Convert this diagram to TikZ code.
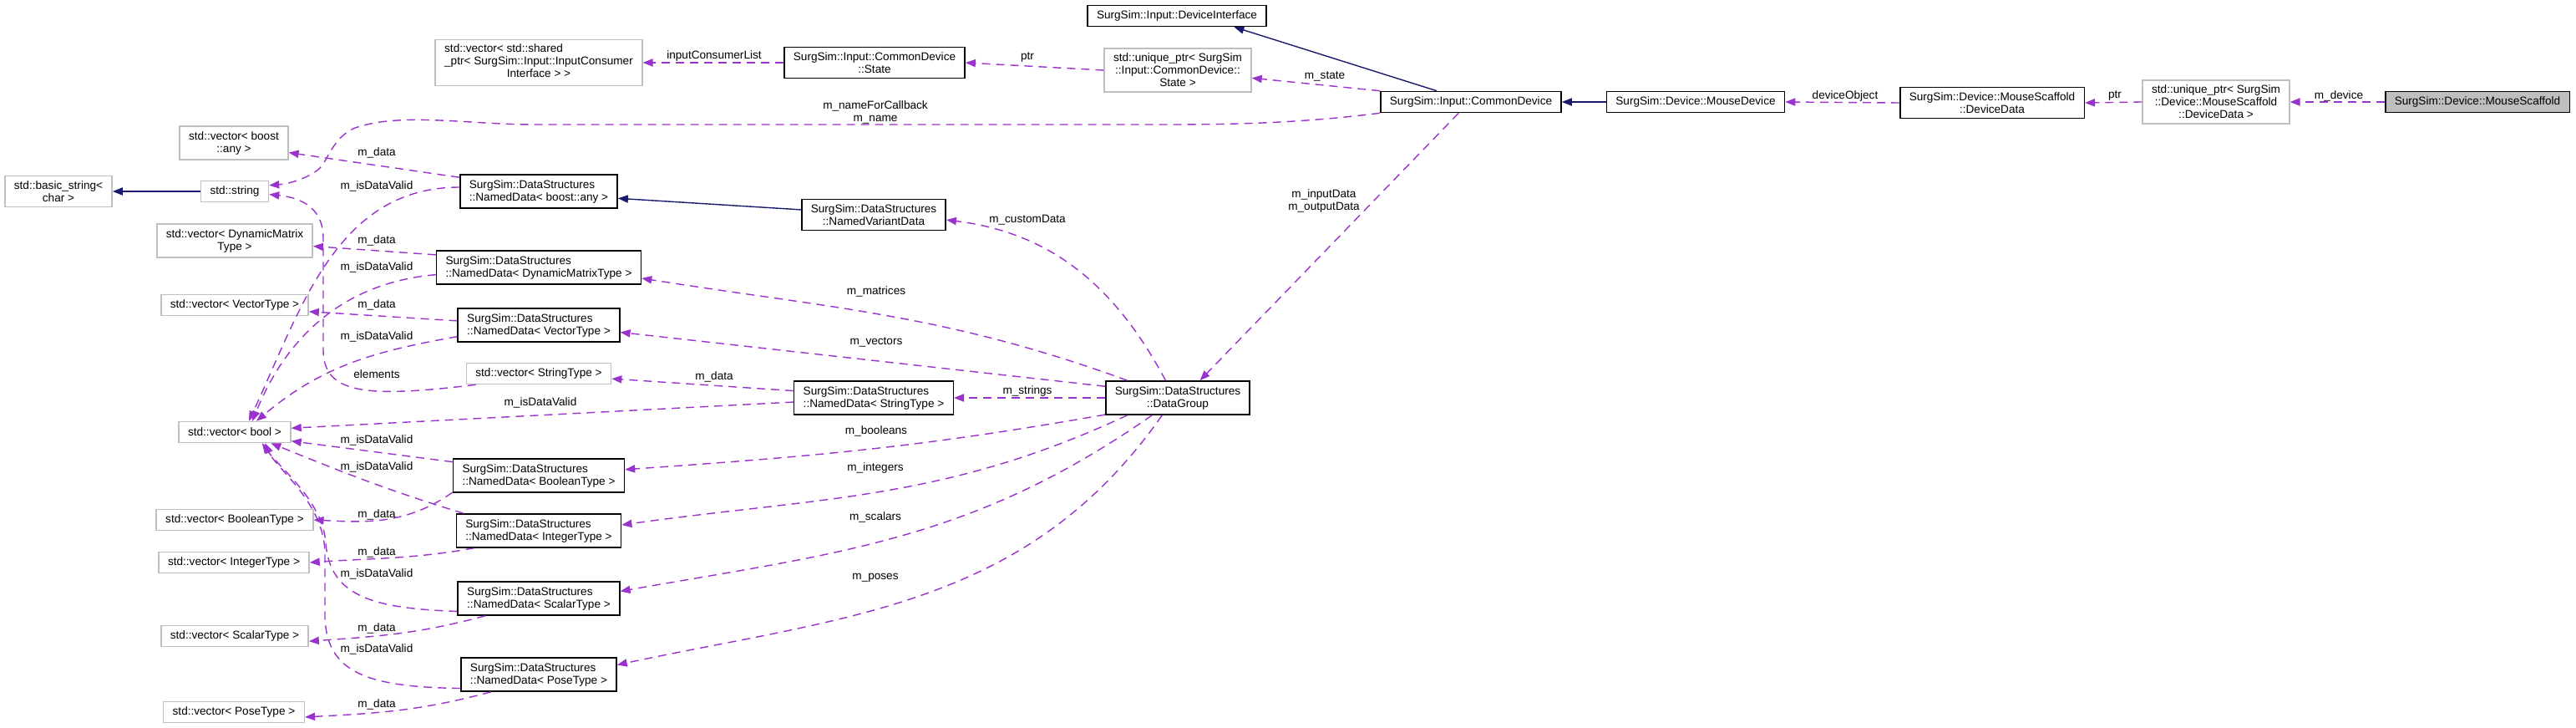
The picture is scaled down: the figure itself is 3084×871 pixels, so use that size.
\documentclass[tikz,border=0pt]{standalone}
\usepackage{fontspec}
\setmainfont{Liberation Sans}
\usetikzlibrary{arrows.meta}
\definecolor{dox@purple}{RGB}{154, 50, 205}
\definecolor{dox@navy}{RGB}{25, 25, 112}
\definecolor{dox@gray}{RGB}{191, 191, 191}
\newcommand{\dxfont}{\fontsize{6.8}{7.5}\selectfont}

\begin{document}
\begin{tikzpicture}[x=0.5pt, y=0.5pt,
  cls/.style  = {rectangle, draw=black, fill=white, line width=0.75pt,
                 align=center, font=\dxfont, inner xsep=5.5pt, inner ysep=3.1pt,
                 minimum height=12.5pt},
  tmpl/.style = {cls, align=left},
  ext/.style  = {cls, draw=dox@gray},
  root/.style = {cls, fill=dox@gray},
  use/.style  = {-{Triangle[length=6pt,width=4.6pt]}, dox@purple, line width=0.7pt,
                 dash pattern=on 5pt off 3.5pt},
  inh/.style  = {-{Triangle[length=6pt,width=4.6pt]}, dox@navy, line width=0.7pt},
  lbl/.style  = {font=\dxfont, text=black, align=center, inner sep=0pt},
]
  \useasboundingbox[fill=white] (0,0) rectangle (3084,-871);

  \node[cls]  (dint)   at (1409,-19)  {SurgSim::Input::DeviceInterface};
  \node[cls]  (cdev)   at (1761,-122) {SurgSim::Input::CommonDevice};
  \node[cls]  (mdev)   at (2030,-122) {SurgSim::Device::MouseDevice};
  \node[cls]  (ddata)  at (2385,-123) {SurgSim::Device::MouseScaffold\\::DeviceData};
  \node[ext]  (uddata) at (2653,-122) {std::unique\_ptr< SurgSim\\::Device::MouseScaffold\\::DeviceData >};
  \node[root] (mscaf)  at (2966,-122) {SurgSim::Device::MouseScaffold};
  \node[ext]  (ustate) at (1410,-84)  {std::unique\_ptr< SurgSim\\::Input::CommonDevice::\\State >};
  \node[cls]  (state)  at (1047,-75)  {SurgSim::Input::CommonDevice\\::State};
  \node[ext, inner ysep=2.5pt] (vcons) at (645,-75)
    {\begin{tabular}{@{}l@{}}std::vector< std::shared\\\_ptr< SurgSim::Input::InputConsumer\\
     \multicolumn{1}{@{}c@{}}{Interface > >}\end{tabular}};

  \node[ext]  (vany)   at (280,-171)  {std::vector< boost\\::any >};
  \node[ext]  (bstr)   at (70,-229)   {std::basic\_string<\\char >};
  \node[ext]  (str)    at (281,-229)  {std::string};
  \node[ext]  (vdmat)  at (281,-288)  {std::vector< DynamicMatrix\\Type >};
  \node[ext]  (vvec)   at (281,-365)  {std::vector< VectorType >};
  \node[ext]  (vbool)  at (281,-517)  {std::vector< bool >};
  \node[ext]  (vboolt) at (281,-622)  {std::vector< BooleanType >};
  \node[ext]  (vint)   at (280,-673)  {std::vector< IntegerType >};
  \node[ext]  (vscal)  at (281,-761)  {std::vector< ScalarType >};
  \node[ext]  (vpose)  at (280,-852)  {std::vector< PoseType >};

  \node[tmpl] (ndany)  at (645,-229)  {SurgSim::DataStructures\\::NamedData< boost::any >};
  \node[cls]  (ndvar)  at (1046,-257) {SurgSim::DataStructures\\::NamedVariantData};
  \node[tmpl] (nddmat) at (645,-320)  {SurgSim::DataStructures\\::NamedData< DynamicMatrixType >};
  \node[tmpl] (ndvec)  at (645,-389)  {SurgSim::DataStructures\\::NamedData< VectorType >};
  \node[ext]  (vstrt)  at (645,-447)  {std::vector< StringType >};
  \node[tmpl] (ndstr)  at (1046,-476) {SurgSim::DataStructures\\::NamedData< StringType >};
  \node[cls]  (dgroup) at (1410,-476) {SurgSim::DataStructures\\::DataGroup};
  \node[tmpl] (ndbool) at (645,-569)  {SurgSim::DataStructures\\::NamedData< BooleanType >};
  \node[tmpl] (ndint)  at (645,-635)  {SurgSim::DataStructures\\::NamedData< IntegerType >};
  \node[tmpl] (ndscal) at (645,-716)  {SurgSim::DataStructures\\::NamedData< ScalarType >};
  \node[tmpl] (ndpose) at (645,-807)  {SurgSim::DataStructures\\::NamedData< PoseType >};

  \draw[use] (mscaf.west)  -- (uddata.east) node[lbl] at (2800,-115) {m\_device};
  \draw[use] (uddata.west) -- (ddata.east)  node[lbl] at (2532,-115) {ptr};
  \draw[use] (ddata.west)  -- (mdev.east)   node[lbl] at (2209,-115) {deviceObject};
  \draw[inh] (mdev.west)   -- (cdev.east);
  \draw[inh] (cdev.162)    -- (dint.-11);
  \draw[use] (cdev.north west) -- (ustate.-6) node[lbl] at (1586,-91) {m\_state};
  \draw[use] (ustate.west) -- (state.east)  node[lbl] at (1230,-69) {ptr};
  \draw[use] (state.west)  -- (vcons.east)  node[lbl] at (855,-67) {inputConsumerList};
  \draw[use] (cdev.south west) .. controls (1560,-147) and (1480,-149) .. (1400,-149)
             -- (640,-149) .. controls (560,-149) and (480,-134) .. (425,-153)
             .. controls (398,-165) and (394,-190) .. (382,-202)
             .. controls (368,-214) and (345,-220) .. (str.10)
             node[lbl] at (1048,-134) {m\_nameForCallback\\m\_name};
  \draw[use] (cdev.222) -- (dgroup.38) node[lbl] at (1585,-240) {m\_inputData\\m\_outputData};

  \draw[use] (dgroup.125) to[out=118, in=-7]  (ndvar.-4)  node[lbl] at (1230,-263) {m\_customData};
  \draw[use] (dgroup.161) to[out=160, in=-9]  (nddmat.-6) node[lbl] at (1049,-349) {m\_matrices};
  \draw[use] (dgroup.171) -- (ndvec.-5)                   node[lbl] at (1049,-409) {m\_vectors};
  \draw[use] (dgroup.west) -- (ndstr.east)                node[lbl] at (1230,-468) {m\_strings};
  \draw[use] (dgroup.193) to[out=190, in=4]   (ndbool.4)  node[lbl] at (1049,-516) {m\_booleans};
  \draw[use] (dgroup.199) to[out=205, in=8]   (ndint.4)   node[lbl] at (1048,-560) {m\_integers};
  \draw[use] (dgroup.214) to[out=215, in=10]  (ndscal.5)  node[lbl] at (1048,-619) {m\_scalars};
  \draw[use] (dgroup.228) to[out=235, in=12]  (ndpose.7)  node[lbl] at (1048,-691) {m\_poses};

  \draw[inh] (ndvar.176) -- (ndany.-5);
  \draw[inh] (str.west)  -- (bstr.east);

  \draw[use] (ndany.170)  -- (vany.-10)                  node[lbl] at (451,-183) {m\_data};
  \draw[use] (ndany.177)  to[out=180, in=65] (vbool.38)  node[lbl] at (451,-223) {m\_isDataValid};
  \draw[use] (nddmat.173) -- (vdmat.-4)                  node[lbl] at (451,-288) {m\_data};
  \draw[use] (nddmat.184) to[out=185, in=68] (vbool.32)  node[lbl] at (451,-320) {m\_isDataValid};
  \draw[use] (ndvec.177)  -- (vvec.-5)                   node[lbl] at (451,-365) {m\_data};
  \draw[use] (ndvec.188)  to[out=190, in=40] (vbool.27)  node[lbl] at (451,-403) {m\_isDataValid};
  \draw[use] (vstrt.190) .. controls (440,-476) and (388,-472) .. (387,-420) -- (387,-285)
             .. controls (387,-245) and (355,-236) .. (str.-5) node[lbl] at (451,-448) {elements};
  \draw[use] (ndstr.175)  -- (vstrt.-4)                  node[lbl] at (855,-451) {m\_data};
  \draw[use] (ndstr.183)  -- (vbool.4)                   node[lbl] at (647,-482) {m\_isDataValid};
  \draw[use] (ndbool.171) -- (vbool.-9)                  node[lbl] at (451,-527) {m\_isDataValid};
  \draw[use] (ndbool.191) to[out=215, in=-3] (vboolt.east) node[lbl] at (451,-616) {m\_data};
  \draw[use] (ndint.167)  to[out=163, in=-22] (vbool.-17) node[lbl] at (451,-559) {m\_isDataValid};
  \draw[use] (ndint.195)  to[out=190, in=4] (vint.east)  node[lbl] at (451,-661) {m\_data};
  \draw[use] (ndscal.189) .. controls (450,-728) and (395,-715) .. (390,-650)
             .. controls (387,-600) and (335,-560) .. (vbool.-22) node[lbl] at (451,-687) {m\_isDataValid};
  \draw[use] (ndscal.198) to[out=195, in=4] (vscal.-4)   node[lbl] at (451,-752) {m\_data};
  \draw[use] (ndpose.190) .. controls (440,-822) and (392,-805) .. (389,-740) -- (389,-660)
             .. controls (387,-600) and (330,-560) .. (vbool.-20) node[lbl] at (451,-777) {m\_isDataValid};
  \draw[use] (ndpose.200) to[out=195, in=3] (vpose.-4)   node[lbl] at (451,-843) {m\_data};
\end{tikzpicture}
\end{document}
